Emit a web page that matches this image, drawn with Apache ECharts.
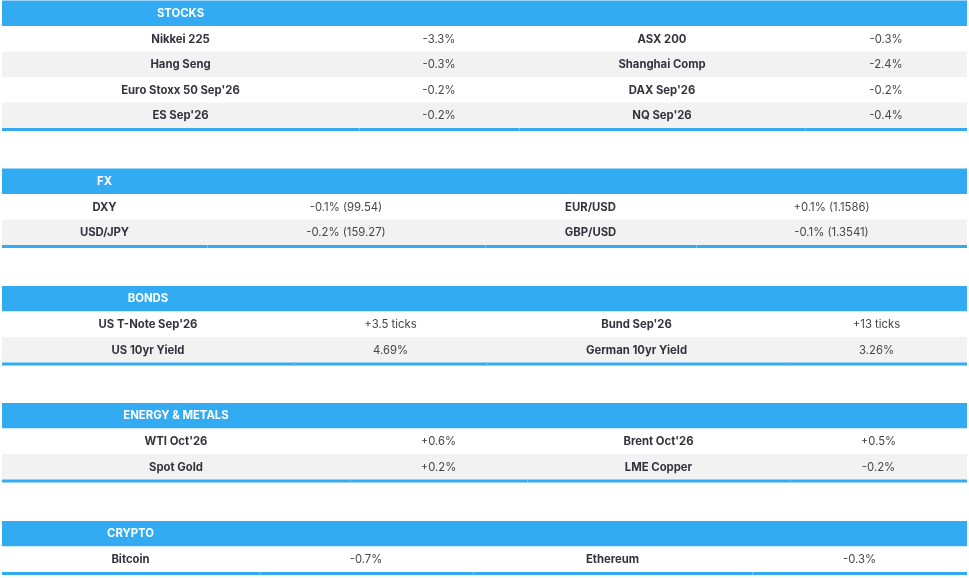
<!DOCTYPE html>
<html>
<head>
<meta charset="utf-8">
<script src="https://cdn.jsdelivr.net/npm/echarts@6/dist/echarts.min.js"></script>
<style>
  html, body { margin: 0; padding: 0; background: #ffffff; }
  #chart { width: 969px; height: 578px; }
</style>
</head>
<body>
<div id="chart"></div>
<script>
/* datos de cada bloque */
const sectionNames = ['STOCKS', 'FX', 'BONDS', 'ENERGY & METALS', 'CRYPTO'];

const stocksLeft = ['Nikkei 225', 'Hang Seng', "Euro Stoxx 50 Sep'26", "ES Sep'26"];
const stocksLeftChange = ['-3.3%', '-0.3%', '-0.2%', '-0.2%'];
const stocksRight = ['ASX 200', 'Shanghai Comp', "DAX Sep'26", "NQ Sep'26"];
const stocksRightChange = ['-0.3%', '-2.4%', '-0.2%', '-0.4%'];

const fxLeft = ['DXY', 'USD/JPY'];
const fxLeftChange = ['-0.1% (99.54)', '-0.2% (159.27)'];
const fxRight = ['EUR/USD', 'GBP/USD'];
const fxRightChange = ['+0.1% (1.1586)', '-0.1% (1.3541)'];

const bondsLeft = ["US T-Note Sep'26", 'US 10yr Yield'];
const bondsLeftChange = ['+3.5 ticks', '4.69%'];
const bondsRight = ["Bund Sep'26", 'German 10yr Yield'];
const bondsRightChange = ['+13 ticks', '3.26%'];

const energyLeft = ["WTI Oct'26", 'Spot Gold'];
const energyLeftChange = ['+0.6%', '+0.2%'];
const energyRight = ["Brent Oct'26", 'LME Copper'];
const energyRightChange = ['+0.5%', '-0.2%'];

const cryptoLeft = ['Bitcoin'];
const cryptoLeftChange = ['-0.7%'];
const cryptoRight = ['Ethereum'];
const cryptoRightChange = ['-0.3%'];

/* layout (px del lienzo) */
const sectionTop = [0.5, 168.5, 286, 403, 521];
const colEdges = [
    [2, 359, 519, 805, 967],
    [2, 207, 485, 696, 967],
    [2, 294, 487, 786, 967],
    [2, 350, 527, 790, 967],
    [2, 259, 473, 752, 967]
];
const headH = 25.5;
const rowH = 25.5;
const borderH = 3;

const blue = '#32abf2';
const altRow = '#f2f2f2';
const labelFont = { fontFamily: 'Inter', fontSize: 11.3, fontWeight: 700, fill: '#33333d' };
const valueFont = { fontFamily: 'Inter', fontSize: 11.3, fontWeight: 400, fill: '#454545' };
const headFont = { fontFamily: 'Inter', fontSize: 11.3, fontWeight: 700, fill: '#ffffff' };

const sections = [
    [stocksLeft, stocksLeftChange, stocksRight, stocksRightChange],
    [fxLeft, fxLeftChange, fxRight, fxRightChange],
    [bondsLeft, bondsLeftChange, bondsRight, bondsRightChange],
    [energyLeft, energyLeftChange, energyRight, energyRightChange],
    [cryptoLeft, cryptoLeftChange, cryptoRight, cryptoRightChange]
];

/* una celda por cabecera, fila y borde inferior */
const cells = [];
sections.forEach((cols, s) => {
    cells.push({ kind: 'head', sec: s, row: -1 });
    cols[0].forEach((_, r) => cells.push({ kind: 'row', sec: s, row: r }));
    cells.push({ kind: 'border', sec: s, row: cols[0].length });
});

function rectFrom(api, x0, y0, x1, y1, fill) {
    const p0 = api.coord([x0, y0]);
    const p1 = api.coord([x1, y1]);
    return {
        type: 'rect',
        shape: { x: p0[0], y: p0[1], width: p1[0] - p0[0], height: p1[1] - p0[1] },
        style: { fill: fill }
    };
}

function textAt(api, x, y, text, font) {
    const c = api.coord([x, y]);
    return {
        type: 'text',
        style: Object.assign({ text: text, x: c[0], y: c[1], align: 'center', verticalAlign: 'middle' }, font)
    };
}

function renderItem(params, api) {
    const cell = cells[params.dataIndex];
    const s = cell.sec;
    const e = colEdges[s];
    const top = sectionTop[s];
    const children = [];

    if (cell.kind === 'head') {
        children.push(rectFrom(api, e[0], top, e[4], top + headH, blue));
        children.push(textAt(api, (e[0] + e[1]) / 2, top + headH / 2, sectionNames[s], headFont));
    } else if (cell.kind === 'row') {
        const y0 = top + headH + cell.row * rowH;
        const y1 = y0 + rowH;
        children.push(rectFrom(api, e[0], y0, e[4], y1, cell.row % 2 === 1 ? altRow : '#ffffff'));
        const cols = sections[s];
        for (let c = 0; c < 4; c++) {
            const cx = (e[c] + e[c + 1]) / 2;
            children.push(textAt(api, cx, (y0 + y1) / 2 + 0.5, cols[c][cell.row], c % 2 === 0 ? labelFont : valueFont));
        }
    } else {
        const y0 = top + headH + cell.row * rowH;
        children.push(rectFrom(api, e[0], y0, e[4], y0 + borderH, blue));
        for (let c = 1; c < 4; c++) {
            children.push(rectFrom(api, e[c], y0, e[c] + 1, y0 + borderH, '#6cc3f6'));
        }
    }
    return { type: 'group', children: children };
}

const chart = echarts.init(document.getElementById('chart'));

const option = {
    animation: false,
    grid: { left: 0, right: 0, top: 0, bottom: 0 },
    xAxis: { type: 'value', min: 0, max: 969, show: false },
    yAxis: { type: 'value', min: 0, max: 578, inverse: true, show: false },
    series: [{
        type: 'custom',
        silent: true,
        clip: false,
        renderItem: renderItem,
        data: cells.map(c => [c.sec, c.row])
    }]
};

chart.setOption(option);
chart.resize();
</script>
</body>
</html>
